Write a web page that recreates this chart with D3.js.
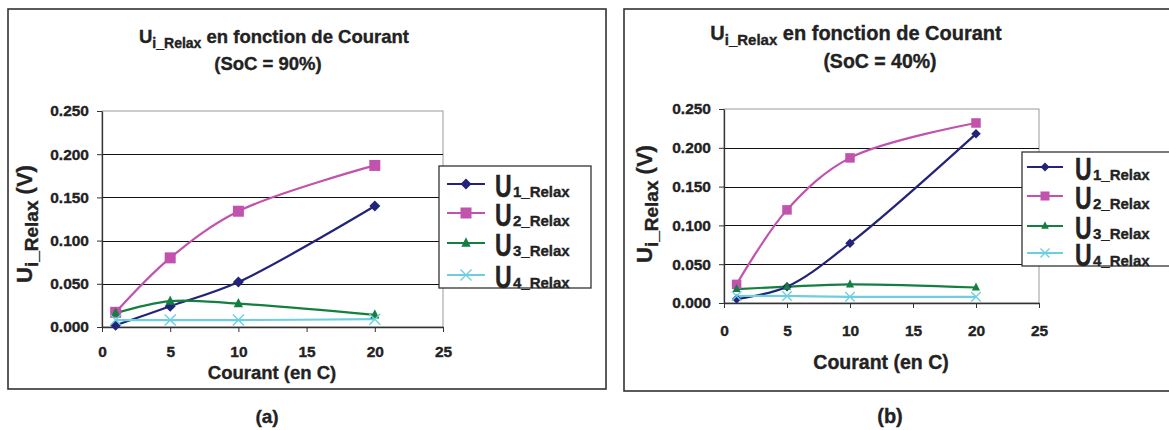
<!DOCTYPE html>
<html><head><meta charset="utf-8">
<script src="https://cdn.jsdelivr.net/npm/d3@7"></script>
<style>
html,body{margin:0;padding:0;background:#fff;}
svg text{font-family:"Liberation Sans",Arial,sans-serif;font-weight:bold;fill:#222;stroke:#222;stroke-width:0.35px;}
</style></head>
<body><svg id="c" width="1169" height="430"></svg>
<script>
// ---- data ----
const courant = [1, 5, 10, 20];
const xTicks = [0, 5, 10, 15, 20, 25];
const yTicks = [0, 0.05, 0.10, 0.15, 0.20, 0.25];
const seriesNames = ["1_Relax", "2_Relax", "3_Relax", "4_Relax"];
// SoC = 90%
const a_U1 = [0.002, 0.024, 0.052, 0.140];
const a_U2 = [0.017, 0.080, 0.134, 0.187];
const a_U3 = [0.016, 0.030, 0.027, 0.014];
const a_U4 = [0.008, 0.008, 0.008, 0.009];
// SoC = 40%
const b_U1 = [0.005, 0.021, 0.077, 0.218];
const b_U2 = [0.024, 0.120, 0.187, 0.232];
const b_U3 = [0.018, 0.021, 0.024, 0.020];
const b_U4 = [0.009, 0.009, 0.008, 0.008];
const titlesSoC = ["(SoC = 90%)", "(SoC = 40%)"];
const panelLetters = ["(a)", "(b)"];

const colors = ["#23237a", "#c152ad", "#138041", "#6ccfe0"];
const markers = ["diamond", "square", "triangle", "cross"];

const svg = d3.select("#c");

const panels = [
  {series:[a_U1,a_U2,a_U3,a_U4], soc:titlesSoC[0], letter:panelLetters[0],
   frame:[8,9,606,389], plot:[102,111,443,327],
   t1:{x:274,y:43,fs:18.5,sub:14}, t2:{x:268,y:70,fs:18.5},
   ylab:{x:32,y:224,fs:22,sub:19},
   xlabY:357, axTitle:{x:272,y:379,fs:18.5},
   legend:{box:[439,166,591,288], lx1:447, lx2:485, rows:[184,213,243,275], ux:495, sx:513, ms:11},
   letterPos:{x:267,y:423,fs:19}, ms:11},
  {series:[b_U1,b_U2,b_U3,b_U4], soc:titlesSoC[1], letter:panelLetters[1],
   frame:[624,9,1175,391], plot:[724,109,1039,303],
   t1:{x:856,y:40,fs:20,sub:15}, t2:{x:880,y:68,fs:19.5},
   ylab:{x:652,y:204,fs:22,sub:19},
   xlabY:336, axTitle:{x:881,y:369,fs:19.5},
   legend:{box:[1022,152,1172,266], lx1:1027, lx2:1063, rows:[167,196,226,253], ux:1075, sx:1093, ms:9},
   letterPos:{x:890,y:423,fs:20}, ms:9.5}
];

function drawMarker(g, type, x, y, s, color){
  if(type==="diamond"){
    g.append("path").attr("d",`M${x},${y-s/2}L${x+s/2},${y}L${x},${y+s/2}L${x-s/2},${y}Z`).attr("fill",color);
  } else if(type==="square"){
    g.append("rect").attr("x",x-s/2).attr("y",y-s/2).attr("width",s).attr("height",s).attr("fill",color);
  } else if(type==="triangle"){
    const t=s*0.85;
    g.append("path").attr("d",`M${x},${y-t/2-1}L${x+t/2},${y+t/2-1}L${x-t/2},${y+t/2-1}Z`).attr("fill",color);
  } else {
    const h=s/2;
    g.append("path").attr("d",`M${x-h},${y-h}L${x+h},${y+h}M${x-h},${y+h}L${x+h},${y-h}`)
      .attr("stroke",color).attr("stroke-width",1.4).attr("fill","none");
  }
}

panels.forEach(p=>{
  const g = svg.append("g");
  const [fx0,fy0,fx1,fy1]=p.frame;
  g.append("rect").attr("x",fx0).attr("y",fy0).attr("width",fx1-fx0).attr("height",fy1-fy0)
    .attr("fill","none").attr("stroke","#333").attr("stroke-width",1.6);
  const [px0,py0,px1,py1]=p.plot;
  const x = d3.scaleLinear().domain([0,25]).range([px0,px1]);
  const y = d3.scaleLinear().domain([0,0.25]).range([py1,py0]);

  // plot border
  g.append("rect").attr("x",px0).attr("y",py0).attr("width",px1-px0).attr("height",py1-py0)
    .attr("fill","none").attr("stroke","#9a9a9a").attr("stroke-width",1);
  // gridlines
  g.selectAll(".grid").data(yTicks.filter(v=>v>0 && v<0.25)).enter().append("line")
    .attr("x1",px0).attr("x2",px1).attr("y1",d=>Math.round(y(d))+0.5).attr("y2",d=>Math.round(y(d))+0.5)
    .attr("stroke","#111").attr("stroke-width",1);

  // axes
  const yAxis = d3.axisLeft(y).tickValues(yTicks).tickFormat(d3.format(".3f")).tickSizeInner(5).tickSizeOuter(0).tickPadding(8);
  const ya = g.append("g").attr("transform",`translate(${px0},0)`).call(yAxis);
  ya.select(".domain").attr("stroke","#333").attr("stroke-width",1.3);
  ya.selectAll(".tick line").attr("stroke","#333");
  ya.selectAll("text").attr("font-size",15.5).attr("fill","#222").attr("font-family","Liberation Sans, Arial").attr("font-weight","bold");

  const xAxis = d3.axisBottom(x).tickValues(xTicks).tickFormat(d3.format("d")).tickSizeInner(5).tickSizeOuter(0).tickPadding(0);
  const xa = g.append("g").attr("transform",`translate(0,${py1})`).call(xAxis);
  xa.select(".domain").attr("stroke","#333").attr("stroke-width",1.3);
  xa.selectAll(".tick line").attr("stroke","#333");
  xa.selectAll("text").attr("font-size",15.5).attr("fill","#222").attr("font-family","Liberation Sans, Arial").attr("font-weight","bold")
    .attr("dy",null).attr("y",p.xlabY-py1);

  // series
  const line = d3.line().x((d,i)=>x(courant[i])).y(d=>y(d)).curve(d3.curveCatmullRom.alpha(0.5));
  p.series.forEach((s,k)=>{
    g.append("path").attr("d",line(s)).attr("fill","none").attr("stroke",colors[k]).attr("stroke-width",2.2);
  });
  p.series.forEach((s,k)=>{
    s.forEach((v,i)=>drawMarker(g, markers[k], x(courant[i]), y(v), p.ms, colors[k]));
  });

  // title
  const t1 = g.append("text").attr("x",p.t1.x).attr("y",p.t1.y).attr("text-anchor","middle").attr("font-size",p.t1.fs);
  t1.append("tspan").text("U");
  t1.append("tspan").attr("font-size",p.t1.sub).attr("dy",5).text("i_Relax");
  t1.append("tspan").attr("dy",-5).text(" en fonction de Courant");
  g.append("text").attr("x",p.t2.x).attr("y",p.t2.y).attr("text-anchor","middle").attr("font-size",p.t2.fs).text(p.soc);

  // y label
  const yl = g.append("text").attr("transform",`translate(${p.ylab.x},${p.ylab.y}) rotate(-90)`)
    .attr("text-anchor","middle").attr("font-size",p.ylab.fs);
  yl.append("tspan").text("U");
  yl.append("tspan").attr("font-size",p.ylab.sub).attr("dy",6).text("i_Relax");
  yl.append("tspan").attr("dy",-6).text(" (V)");

  // x title
  g.append("text").attr("x",p.axTitle.x).attr("y",p.axTitle.y).attr("text-anchor","middle")
    .attr("font-size",p.axTitle.fs).text("Courant (en C)");

  // legend
  const L=p.legend;
  g.append("rect").attr("x",L.box[0]).attr("y",L.box[1]).attr("width",L.box[2]-L.box[0]).attr("height",L.box[3]-L.box[1])
    .attr("fill","#fff").attr("stroke","#333").attr("stroke-width",1.3);
  seriesNames.forEach((nm,k)=>{
    const ry=L.rows[k];
    g.append("line").attr("x1",L.lx1).attr("x2",L.lx2).attr("y1",ry).attr("y2",ry).attr("stroke",colors[k]).attr("stroke-width",2.2);
    drawMarker(g, markers[k], (L.lx1+L.lx2)/2, ry, L.ms, colors[k]);
    g.append("text").attr("transform",`translate(${L.ux},${ry+13}) scale(1,1.4)`).attr("font-size",23).attr("stroke-width",0.6).text("U");
    g.append("text").attr("x",L.sx).attr("y",ry+13).attr("font-size",15).text(nm);
  });

  // panel letter
  g.append("text").attr("x",p.letterPos.x).attr("y",p.letterPos.y).attr("text-anchor","middle")
    .attr("font-size",p.letterPos.fs).text(p.letter);
});
</script></body></html>
